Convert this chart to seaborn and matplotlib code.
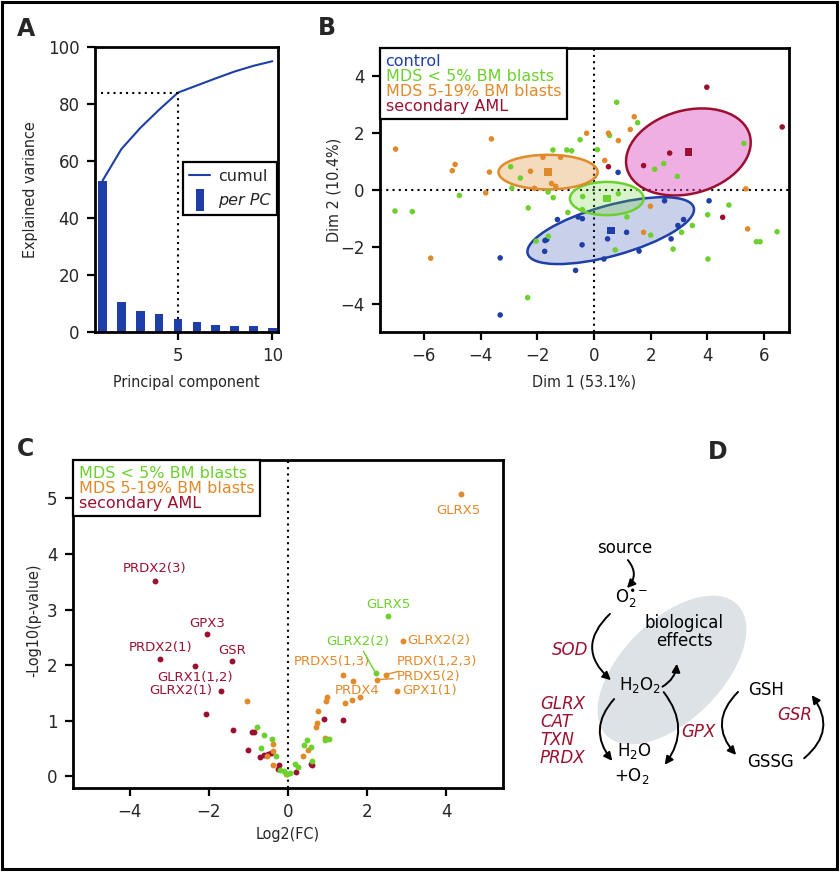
import matplotlib
matplotlib.use("Agg")
import matplotlib.pyplot as plt
from matplotlib.lines import Line2D
from matplotlib.patches import Ellipse, FancyArrowPatch, Rectangle
import pandas as pd
import seaborn as sns

sns.set_style("ticks")
plt.rcParams["font.family"] = ["DejaVu Sans"]
LABEL_KW = dict(fontsize=11.5, family=["DejaVu Sans"], fontstretch="condensed")

BLUE = "#1f3fa8"
GREEN = "#6cd12e"
ORANGE = "#e08a2a"
RED = "#9b1030"

########################################################
# Data
########################################################
# A: explained variance per principal component
pcs = [1, 2, 3, 4, 5, 6, 7, 8, 9, 10]
var_per_pc = [53.1, 10.4, 7.4, 6.2, 4.7, 3.6, 2.6, 2.0, 2.0, 1.4]
var_cumul = [53.1, 64.2, 71.6, 78.0, 84.0, 86.5, 89.0, 91.4, 93.4, 95.0]

# B: PCA individuals
groups = ["control", "MDS < 5% BM blasts", "MDS 5-19% BM blasts", "secondary AML"]
group_colors = [BLUE, GREEN, ORANGE, RED]

ctrl_x = [-1.29, -1.73, -1.67, -1.74, -3.31, -3.31, 0.85, 2.49, 4.06, -0.56,
          -0.41, 3.16, 2.96, 1.15, 0.48, 2.72, -0.42, 1.59, 0.35, -0.65]
ctrl_y = [-1.04, -1.78, -1.75, -2.16, -2.39, -4.40, 0.62, -0.38, -0.38, -0.95,
          -1.01, -1.04, -1.25, -1.49, -1.72, -1.72, -1.93, -2.15, -2.43, -2.83]
mdsl_x = [-7.02, -6.41, -4.75, -2.94, -2.60, -2.90, -1.45, -0.96, -1.62, -1.44,
          -2.32, -0.92, -2.04, -1.61, -2.34, 0.80, 1.54, -0.49, 0.55, -0.79,
          0.12, 2.14, 2.46, 2.94, 5.29, -0.40, 0.86, -0.41, 1.16, 4.76,
          4.01, 3.47, 3.09, 2.00, 0.75, 2.79, 4.02, 5.73, 5.86, 6.46]
mdsl_y = [-0.74, -0.76, -0.19, 0.82, 0.42, 0.07, 1.41, 1.41, -0.07, -0.27,
          -0.63, -0.79, -1.80, -1.63, -3.79, 3.09, 2.37, 1.77, 1.92, 1.38,
          1.42, 0.73, 0.93, 0.48, 1.64, -0.23, -0.13, -0.69, -0.95, -0.53,
          -0.87, -1.25, -1.49, -1.59, -2.11, -2.08, -2.43, -1.82, -1.82, -1.47]
mdsh_x = [-7.00, -3.62, -4.90, -5.00, -3.69, -3.82, -5.76, -1.80, -1.18, -2.24,
          -2.10, -1.50, -1.35, 1.42, 1.28, -0.26, 0.51, 0.86, 0.38, 5.36,
          1.99, 1.75, 5.42]
mdsh_y = [1.44, 1.80, 0.90, 0.68, 0.63, -0.10, -2.40, 1.15, 1.15, 0.66,
          0.06, 0.23, 0.13, 2.58, 2.13, 2.00, 2.00, 1.74, 1.04, 0.04,
          -0.57, -1.49, -1.37]
aml_x = [3.98, 6.64, 2.67, 1.75, 0.51, 4.54]
aml_y = [3.62, 2.22, 1.30, 0.86, 0.82, -0.96]

# group centroids and concentration ellipses
cent_x = [0.59, 0.45, -1.62, 3.33]
cent_y = [-1.43, -0.30, 0.63, 1.34]
ell_w = [6.08, 2.60, 3.50, 4.49]
ell_h = [1.77, 1.17, 1.22, 2.93]
ell_angle = [15.5, 0.0, 0.0, 15.3]
ell_fill = [(0.12, 0.25, 0.66, 0.24), (0.42, 0.82, 0.18, 0.25),
            (0.88, 0.54, 0.16, 0.30), (0.87, 0.31, 0.75, 0.45)]

# C: volcano plot, each group vs control
mdsl_fc = [-0.78, -0.60, -0.41, -0.68, -0.31, -0.11, 0.05, 0.18, 0.24, 0.40,
           0.49, 0.57, 0.61, 0.93, 1.03, 2.53, 2.22, -0.02, -0.20]
mdsl_p = [0.89, 0.74, 0.68, 0.51, 0.37, 0.10, 0.06, 0.23, 0.17, 0.57,
          0.66, 0.52, 0.28, 0.65, 0.68, 2.88, 1.85, 0.04, 0.12]
mdsh_fc = [-1.04, -0.39, -0.37, -0.54, -0.39, -0.06, 0.37, 0.51, 0.70, 0.72,
           0.77, 0.96, 0.99, 0.93, 1.44, 1.62, 1.83, 2.75, 4.38, 2.91,
           2.47, 2.26, 1.38, 1.65]
mdsh_p = [1.36, 0.58, 0.46, 0.36, 0.21, 0.05, 0.36, 0.47, 0.88, 0.96,
          1.17, 1.35, 1.43, 0.69, 1.32, 1.38, 1.42, 1.54, 5.07, 2.44,
          1.83, 1.74, 1.83, 1.72]
aml_fc = [-3.37, -2.04, -3.23, -1.41, -2.34, -1.70, -2.08, -1.38, -0.92, -0.86,
          -1.02, -0.71, -0.60, -0.50, -0.44, -0.22, -0.24, 0.20, 0.57, 0.61,
          0.90, 1.40]
aml_p = [3.52, 2.56, 2.11, 2.07, 1.99, 1.54, 1.13, 0.84, 0.79, 0.79,
         0.47, 0.35, 0.39, 0.41, 0.42, 0.21, 0.13, 0.08, 0.22, 0.20,
         1.04, 1.02]

# gene labels: (group, index, text, dx px, dy px, ha, connector)
gene_labels = [
    ("secondary AML", 0, "PRDX2(3)", 0, 12, "center", False),
    ("secondary AML", 1, "GPX3", 0, 11, "center", False),
    ("secondary AML", 2, "PRDX2(1)", 0, 12, "center", False),
    ("secondary AML", 3, "GSR", 0, 11, "center", False),
    ("secondary AML", 4, "GLRX1(1,2)", 0, -12, "center", False),
    ("secondary AML", 5, "GLRX2(1)", -8, 0, "right", False),
    ("MDS 5-19% BM blasts", 18, "GLRX5", -3, -16, "center", False),
    ("MDS 5-19% BM blasts", 19, "GLRX2(2)", 4, 0, "left", False),
    ("MDS 5-19% BM blasts", 20, "PRDX(1,2,3)", 11, 13, "left", True),
    ("MDS 5-19% BM blasts", 21, "PRDX5(2)", 19, 3, "left", True),
    ("MDS 5-19% BM blasts", 17, "GPX1(1)", 5, 0, "left", False),
    ("MDS 5-19% BM blasts", 22, "PRDX5(1,3)", 27, 13, "right", False),
    ("MDS 5-19% BM blasts", 23, "PRDX4", 4, -10, "center", False),
    ("MDS < 5% BM blasts", 15, "GLRX5", 0, 12, "center", False),
    ("MDS < 5% BM blasts", 16, "GLRX2(2)", -18, 32, "center", True),
]

pca = pd.concat([
    pd.DataFrame({"dim1": ctrl_x, "dim2": ctrl_y, "group": groups[0]}),
    pd.DataFrame({"dim1": mdsl_x, "dim2": mdsl_y, "group": groups[1]}),
    pd.DataFrame({"dim1": mdsh_x, "dim2": mdsh_y, "group": groups[2]}),
    pd.DataFrame({"dim1": aml_x, "dim2": aml_y, "group": groups[3]}),
], ignore_index=True)
centroids = pd.DataFrame({"dim1": cent_x, "dim2": cent_y, "group": groups})

volcano = {
    groups[1]: pd.DataFrame({"fc": mdsl_fc, "p": mdsl_p}),
    groups[2]: pd.DataFrame({"fc": mdsh_fc, "p": mdsh_p}),
    groups[3]: pd.DataFrame({"fc": aml_fc, "p": aml_p}),
}
palette = dict(zip(groups, group_colors))

########################################################
# Figure
########################################################
W, H = 840, 872
fig = plt.figure(figsize=(W / 100, H / 100), dpi=100)


def px_axes(left, top, right, bottom):
    return fig.add_axes([left / W, 1 - bottom / H, (right - left) / W, (bottom - top) / H])


def style(ax):
    for s in ax.spines.values():
        s.set_visible(True)
        s.set_linewidth(2.0)
        s.set_color("black")
    ax.tick_params(direction="out", length=6, width=1.6, labelsize=12, pad=5,
                   color="black")


def text_legend(ax, labels, colors, **kw):
    handles = [Line2D([], [], linestyle="none") for _ in labels]
    leg = ax.legend(handles, labels, loc="upper left", borderaxespad=0,
                    handlelength=0, handletextpad=0, fancybox=False,
                    framealpha=1, edgecolor="black", fontsize=11.5,
                    labelspacing=0.0, borderpad=0.35, **kw)
    leg.get_frame().set_linewidth(1.6)
    for t, c in zip(leg.get_texts(), colors):
        t.set_color(c)
    return leg


dotted = dict(color="black", lw=1.5, linestyle=(0, (1, 2.0)))

# ---------------- A
axA = px_axes(95, 47, 278, 332)
sns.barplot(x=pcs, y=var_per_pc, native_scale=True, width=0.45, color=BLUE,
            saturation=1, errorbar=None, linewidth=0, ax=axA)
sns.lineplot(x=pcs, y=var_cumul, color=BLUE, lw=1.5, ax=axA)
axA.plot([0.9, pcs[4]], [var_cumul[4]] * 2, **dotted)
axA.plot([pcs[4]] * 2, [var_per_pc[4], var_cumul[4]], **dotted)
axA.set_xlim(0.6, 10.3)
axA.set_ylim(0, 100)
axA.set_xticks([5, 10])
axA.set_yticks([0, 20, 40, 60, 80, 100])
style(axA)
axA.set_xlabel("Principal component", **LABEL_KW)
axA.set_ylabel("Explained variance", **LABEL_KW)
axA.xaxis.set_label_coords(0.5, -0.15)
axA.yaxis.set_label_coords(-0.31, 0.5)
bar_marker = [(-0.2, -0.5), (0.2, -0.5), (0.2, 0.5), (-0.2, 0.5)]
legA = axA.legend(
    [Line2D([], [], color=BLUE, lw=1.5),
     Line2D([], [], linestyle="none", marker=bar_marker, markersize=16,
            color=BLUE, markeredgewidth=0)],
    ["cumul", "per PC"], loc="upper right", bbox_to_anchor=(0.995, 0.595),
    borderaxespad=0, fancybox=False, framealpha=1, edgecolor="black",
    fontsize=11.5, handlelength=1.3, handletextpad=0.5, labelspacing=0.6,
    borderpad=0.4)
legA.get_frame().set_linewidth(1.6)
legA.get_texts()[1].set_fontstyle("italic")

# ---------------- B
axB = px_axes(380, 48, 789, 332)
for i, g in enumerate(groups):
    axB.add_patch(Ellipse((cent_x[i], cent_y[i]), ell_w[i], ell_h[i],
                          angle=ell_angle[i], facecolor=ell_fill[i],
                          edgecolor=group_colors[i], lw=1.8, zorder=1))
axB.axvline(0, zorder=0.5, **dotted)
axB.axhline(0, zorder=0.5, **dotted)
sns.scatterplot(data=pca, x="dim1", y="dim2", hue="group", palette=palette,
                s=16, linewidth=0, legend=False, ax=axB, zorder=3)
sns.scatterplot(data=centroids, x="dim1", y="dim2", hue="group", palette=palette,
                marker="s", s=30, linewidth=0, legend=False, ax=axB, zorder=4)
axB.set_xlim(-7.55, 6.88)
axB.set_ylim(-5.0, 5.0)
axB.set_xticks([-6, -4, -2, 0, 2, 4, 6])
axB.set_yticks([-4, -2, 0, 2, 4])
style(axB)
axB.set_xlabel("Dim 1 (53.1%)", **LABEL_KW)
axB.set_ylabel("Dim 2 (10.4%)", **LABEL_KW)
axB.xaxis.set_label_coords(0.5, -0.15)
axB.yaxis.set_label_coords(-0.095, 0.5)
text_legend(axB, groups, group_colors)

# ---------------- C
axC = px_axes(73, 460, 503, 788)
axC.axvline(0, zorder=0.5, **dotted)
for g in [groups[3], groups[2], groups[1]]:
    sns.scatterplot(data=volcano[g], x="fc", y="p", color=palette[g], s=18,
                    linewidth=0, ax=axC, zorder=3)
for g, idx, txt, dx, dy, ha, conn in gene_labels:
    row = volcano[g].iloc[idx]
    arrow = dict(arrowstyle="-", color=palette[g], lw=1.0, shrinkA=0, shrinkB=2) if conn else None
    axC.annotate(txt, (row["fc"], row["p"]), xytext=(dx, dy),
                 textcoords="offset pixels", ha=ha, va="center", fontsize=9.5,
                 color=palette[g], arrowprops=arrow, zorder=5)
axC.set_xlim(-5.43, 5.43)
axC.set_ylim(-0.21, 5.69)
axC.set_xticks([-4, -2, 0, 2, 4])
axC.set_yticks([0, 1, 2, 3, 4, 5])
style(axC)
axC.set_xlabel("Log2(FC)", **LABEL_KW)
axC.set_ylabel("-Log10(p-value)", **LABEL_KW)
axC.xaxis.set_label_coords(0.5, -0.12)
axC.yaxis.set_label_coords(-0.075, 0.51)
text_legend(axC, groups[1:], group_colors[1:])

# ---------------- overlay: panel letters, border, D diagram
ov = fig.add_axes([0, 0, 1, 1], zorder=-1)
ov.set_xlim(0, W)
ov.set_ylim(H, 0)
ov.axis("off")
ov.add_patch(Rectangle((2, 2), W - 5, H - 5, fill=False, lw=2.2, ec="black"))
for letter, lx, ly in [("A", 26, 29), ("B", 327, 28), ("C", 26, 449), ("D", 718, 452)]:
    ov.text(lx, ly, letter, fontsize=17, fontweight="bold", ha="center", va="center")

ov.add_patch(Ellipse((672, 670), 185, 100, angle=-45, facecolor="#dde2e6",
                     edgecolor="none"))
diagram_text = [
    ("source", 625, 548, "black", "normal"),
    (r"O$_2^{\bullet-}$", 632, 598, "black", "normal"),
    ("biological\neffects", 684, 632, "black", "normal"),
    ("SOD", 570, 650, RED, "italic"),
    (r"H$_2$O$_2$", 640, 685, "black", "normal"),
    ("GLRX\nCAT\nTXN\nPRDX", 564, 731, RED, "italic"),
    (r"H$_2$O", 634, 751, "black", "normal"),
    (r"+O$_2$", 632, 776, "black", "normal"),
    ("GPX", 698, 732, RED, "italic"),
    ("GSH", 766, 690, "black", "normal"),
    ("GSSG", 770, 762, "black", "normal"),
    ("GSR", 795, 715, RED, "italic"),
]
for txt, tx, ty, col, st in diagram_text:
    ha = "left" if txt.startswith("GLRX") else "center"
    ov.text(tx if ha == "center" else 540, ty, txt, color=col, fontstyle=st,
            fontsize=12, ha=ha, va="center", linespacing=1.0)
arrows = [
    ((626, 558), (625, 590), -0.5),
    ((612, 612), (613, 682), 0.57),
    ((660, 688), (677, 661), 0.3),
    ((616, 697), (614, 763), 0.45),
    ((662, 690), (663, 767), -0.4),
    ((740, 690), (738, 757), 0.5),
    ((802, 760), (810, 693), 0.5),
]
for a, b, rad in arrows:
    ov.add_patch(FancyArrowPatch(a, b, connectionstyle=f"arc3,rad={rad}",
                                 arrowstyle="-|>", mutation_scale=12, lw=1.4,
                                 color="black"))

fig.savefig("out.png", dpi=100)
